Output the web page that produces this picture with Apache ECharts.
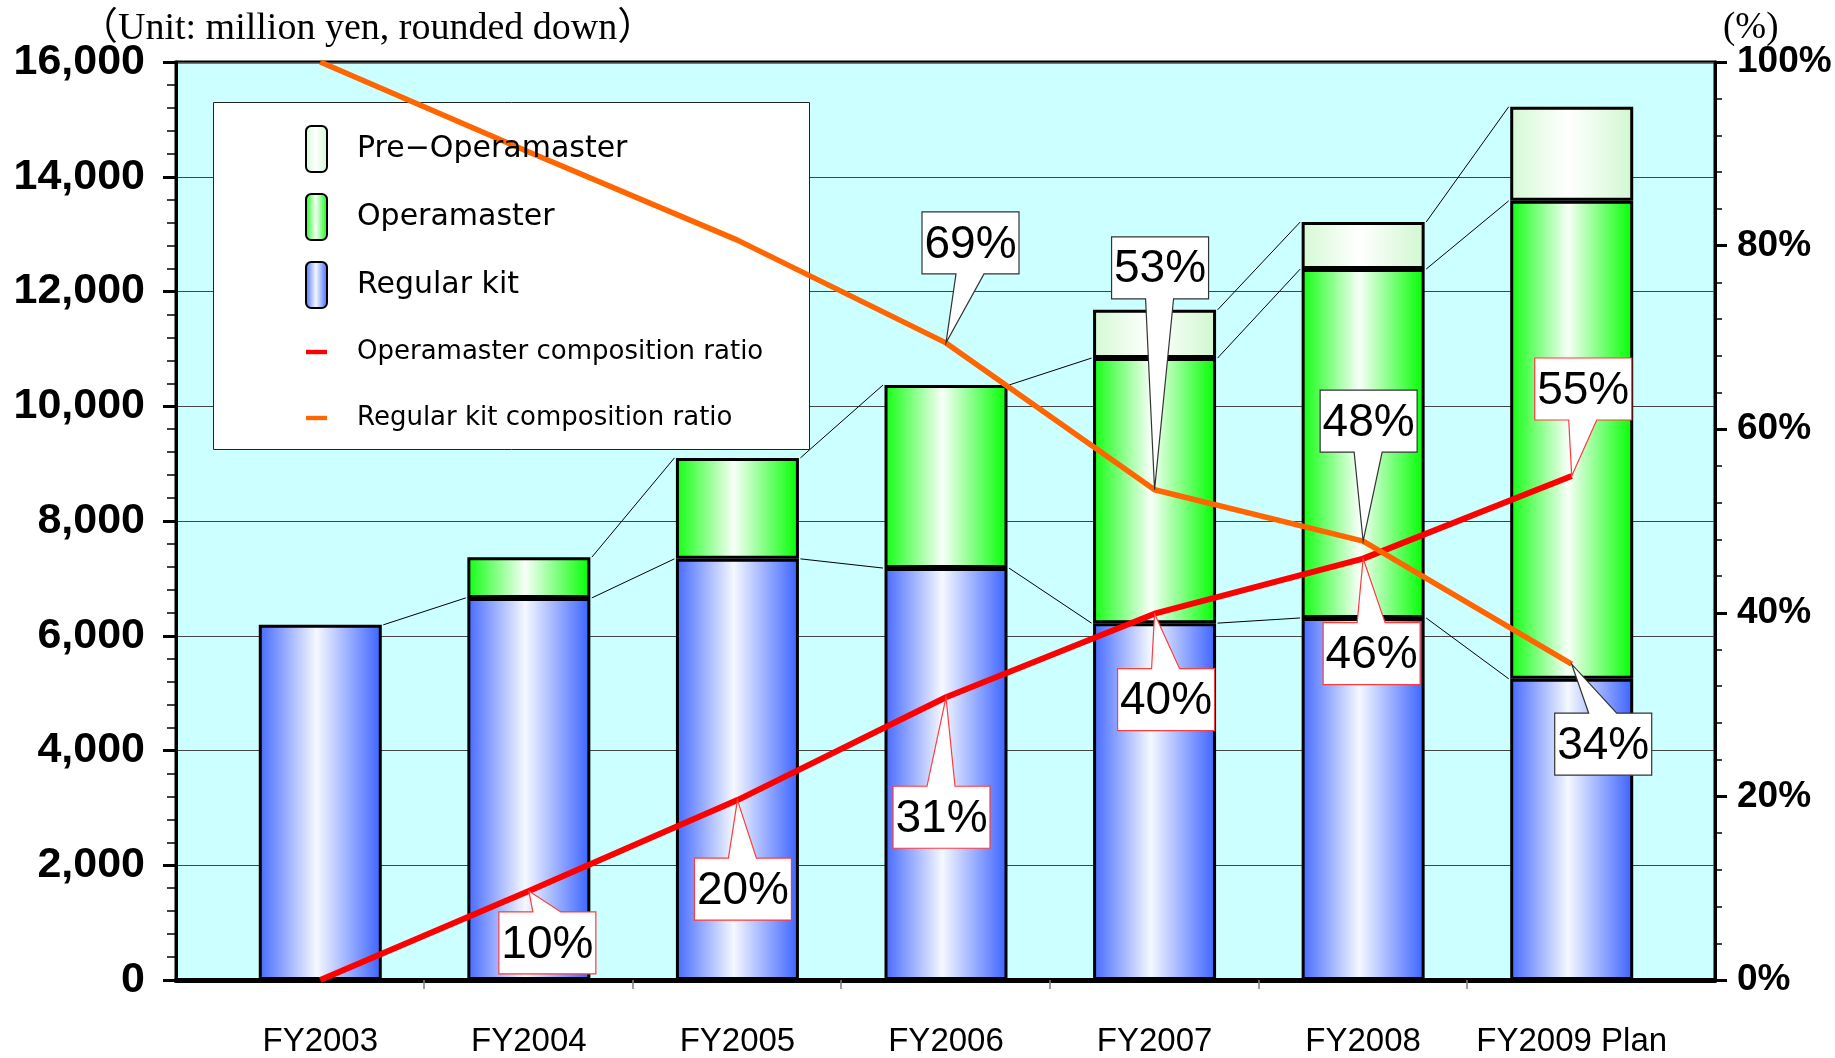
<!DOCTYPE html>
<html>
<head>
<meta charset="utf-8">
<script src="https://cdn.jsdelivr.net/npm/echarts@6/dist/echarts.min.js"></script>
<style>
html,body{margin:0;padding:0;background:#fff;}
#chart{width:1835px;height:1058px;}
</style>
</head>
<body>
<div id="chart"></div>
<script>
// ---------------- data ----------------
const categories = ['FY2003', 'FY2004', 'FY2005', 'FY2006', 'FY2007', 'FY2008', 'FY2009 Plan'];
const regularKit = [6190, 6660, 7340, 7180, 6220, 6310, 5250];
const operamaster = [null, 710, 1760, 3190, 4620, 6080, 8330];
const preOperamaster = [null, null, null, null, 840, 820, 1640];
const operamasterRatio = [0, 9.7, 19.6, 30.8, 39.9, 45.9, 54.9];
const regularKitRatio = [100, 90.2, 80.6, 69.4, 53.4, 47.8, 34.4];
const amountAxis = { min: 0, max: 16000, interval: 2000 };
const ratioAxis = { min: 0, max: 100, interval: 20 };
const opLabelIdx = [1, 2, 3, 4, 5, 6];
const rkLabelIdx = [3, 4, 5, 6];
const titleText = '（Unit: million yen, rounded down）';
const ratioUnitText = '(%)';

// ---------------- layout ----------------
const opCalloutPos = [[-30, 21], [-43, 58], [-53, 89], [-37, 55], [-40, 64], [-37, -118]];
const rkCalloutPos = [[-24, -131], [-43, -253], [-43, -151], [-17, 49]];
const BOX_W = 97, BOX_H = 62, TAIL_L = 34, TAIL_R = 62;
const BAR_W = 123, BAR_HALF = 63;
const CAT_PAD = 0.69;

const chart = echarts.init(document.getElementById('chart'), null, { renderer: 'canvas' });

function grad(c0, c1, c2) {
  return new echarts.graphic.LinearGradient(0, 0, 1, 0, [
    { offset: 0, color: c0 }, { offset: 0.47, color: c1 }, { offset: 1, color: c2 }
  ]);
}

const callouts = [];
opLabelIdx.forEach((ci, k) => callouts.push({ value: [ci, operamasterRatio[ci]], pos: opCalloutPos[k], stroke: '#ff3b3b' }));
rkLabelIdx.forEach((ci, k) => callouts.push({ value: [ci, regularKitRatio[ci]], pos: rkCalloutPos[k], stroke: '#333333' }));

function renderCallout(params, api) {
  const c = callouts[params.dataIndex];
  const v = api.value(1);
  const p = api.coord([api.value(0), v]);
  const x0 = p[0] + c.pos[0], y0 = p[1] + c.pos[1];
  const x1 = x0 + BOX_W, y1 = y0 + BOX_H;
  const b0 = x0 + TAIL_L, b1 = x0 + TAIL_R;
  let pts;
  if (y0 > p[1]) {
    pts = [[x0, y0], [b0, y0], p, [b1, y0], [x1, y0], [x1, y1], [x0, y1]];
  } else {
    pts = [[x0, y0], [x1, y0], [x1, y1], [b1, y1], p, [b0, y1], [x0, y1]];
  }
  return {
    type: 'group',
    children: [
      { type: 'polygon', shape: { points: pts }, style: { fill: '#ffffff', stroke: c.stroke, lineWidth: 1.2 } },
      { type: 'text', style: { text: Math.round(v) + '%', x: (x0 + x1) / 2, y: (y0 + y1) / 2 + 2, align: 'center', verticalAlign: 'middle', fontSize: 46, fontFamily: '"Liberation Sans", Arial, sans-serif', fill: '#000' } }
    ]
  };
}

const layers = [regularKit, operamaster, preOperamaster];
function stackTop(layer, i) {
  let s = 0;
  for (let l = 0; l <= layer; l++) s += layers[l][i] || 0;
  return s;
}
function renderConnector(params, api) {
  const i = api.value(0);
  const children = [];
  for (let l = 0; l < layers.length; l++) {
    if (layers[l][i] == null || layers[l][i + 1] == null) continue;
    const a = api.coord([i, stackTop(l, i)]);
    const b = api.coord([i + 1, stackTop(l, i + 1)]);
    children.push({ type: 'line', shape: { x1: a[0] + BAR_HALF, y1: a[1], x2: b[0] - BAR_HALF, y2: b[1] }, style: { stroke: '#000', lineWidth: 1 } });
  }
  return { type: 'group', children };
}

const sansBold = { fontFamily: '"Liberation Sans", Arial, sans-serif', fontWeight: 'bold', color: '#000' };

const option = {
  animation: false,
  backgroundColor: '#ffffff',
  title: [
    { text: titleText, left: 80, top: 10, padding: 0, textStyle: { fontFamily: '"Liberation Serif", "Noto Sans CJK JP", serif', fontSize: 38, fontWeight: 'normal', color: '#000' } },
    { text: ratioUnitText, left: 1723, top: 10, padding: 0, textStyle: { fontFamily: '"Liberation Serif", serif', fontSize: 37, fontWeight: 'normal', color: '#000' } }
  ],
  grid: [
    { left: 176, right: 120, top: 62, bottom: 78, show: true, backgroundColor: '#CCFFFF', borderColor: '#000', borderWidth: 3 },
    { left: 216, right: 159, top: 62, bottom: 78 }
  ],
  xAxis: [
    {
      type: 'value', gridIndex: 0, min: -CAT_PAD, max: categories.length - 1 + CAT_PAD,
      axisLine: { show: true, onZero: false, lineStyle: { color: '#000', width: 5 } },
      axisTick: { show: true, customValues: categories.slice(1).map((_, i) => i + 0.5), length: 9, lineStyle: { color: '#808080', width: 1.5 } },
      axisLabel: { show: false }, splitLine: { show: false }
    },
    {
      type: 'category', gridIndex: 1, data: categories, boundaryGap: true,
      axisLine: { show: false }, axisTick: { show: false }, splitLine: { show: false },
      axisLabel: { interval: 0, margin: 45, fontSize: 33, fontFamily: '"Liberation Sans", Arial, sans-serif', color: '#000' }
    }
  ],
  yAxis: [
    {
      type: 'value', gridIndex: 0, position: 'left', min: amountAxis.min, max: amountAxis.max, interval: amountAxis.interval,
      axisLine: { show: true, onZero: false, lineStyle: { color: '#000', width: 3 } },
      axisTick: { show: true, length: 13, lineStyle: { color: '#000', width: 3 } },
      minorTick: { show: true, splitNumber: 5, length: 9, lineStyle: { color: '#000', width: 1.5 } },
      axisLabel: Object.assign({ margin: 31, fontSize: 43, formatter: v => v.toLocaleString('en-US') }, sansBold),
      splitLine: { show: true, lineStyle: { color: '#444', width: 1.2 } }
    },
    {
      type: 'value', gridIndex: 0, position: 'right', min: ratioAxis.min, max: ratioAxis.max, interval: ratioAxis.interval,
      axisLine: { show: true, onZero: false, lineStyle: { color: '#000', width: 3 } },
      axisTick: { show: true, length: 12, lineStyle: { color: '#000', width: 3 } },
      minorTick: { show: true, splitNumber: 5, length: 7, lineStyle: { color: '#000', width: 1.5 } },
      axisLabel: Object.assign({ margin: 22, fontSize: 37, formatter: '{value}%' }, sansBold),
      splitLine: { show: false }
    },
    { type: 'value', gridIndex: 1, min: amountAxis.min, max: amountAxis.max, show: false },
    { type: 'value', gridIndex: 1, min: ratioAxis.min, max: ratioAxis.max, show: false }
  ],
  legend: {
    orient: 'vertical', left: 305, top: 125, padding: 0,
    itemWidth: 21, itemHeight: 46, itemGap: 20, selectedMode: false,
    textStyle: { fontFamily: '"DejaVu Sans", sans-serif', color: '#000', lineHeight: 46, padding: [0, 0, 0, 25] },
    data: [
      { name: 'Pre−Operamaster', textStyle: { fontSize: 30 } },
      { name: 'Operamaster', textStyle: { fontSize: 30 } },
      { name: 'Regular kit', textStyle: { fontSize: 30 } },
      { name: 'Operamaster composition ratio', icon: 'path://M0 0H24V5H0Z', textStyle: { fontSize: 26 } },
      { name: 'Regular kit composition ratio', icon: 'path://M0 0H24V5H0Z', textStyle: { fontSize: 26 } }
    ]
  },
  graphic: [
    { type: 'rect', left: 213, top: 102, z: 3, shape: { width: 596, height: 347 }, style: { fill: '#ffffff', stroke: '#222', lineWidth: 1 } }
  ],
  series: [
    { type: 'bar', name: 'Regular kit', xAxisIndex: 1, yAxisIndex: 2, stack: 'total', barWidth: BAR_W, data: regularKit,
      itemStyle: { color: grad('#4569FF', '#F5F8FF', '#3B62FF'), borderColor: '#000', borderWidth: 3 } },
    { type: 'bar', name: 'Operamaster', xAxisIndex: 1, yAxisIndex: 2, stack: 'total', barWidth: BAR_W, data: operamaster,
      itemStyle: { color: grad('#10FF10', '#F8FFF8', '#00FF00'), borderColor: '#000', borderWidth: 3 } },
    { type: 'bar', name: 'Pre−Operamaster', xAxisIndex: 1, yAxisIndex: 2, stack: 'total', barWidth: BAR_W, data: preOperamaster,
      itemStyle: { color: grad('#D4F9D4', '#FFFFFF', '#D0F7D0'), borderColor: '#000', borderWidth: 3 } },
    { type: 'custom', name: 'connectors', xAxisIndex: 1, yAxisIndex: 2, silent: true, clip: false,
      data: categories.slice(0, -1).map((_, i) => [i, 0]), renderItem: renderConnector },
    { type: 'line', name: 'Operamaster composition ratio', xAxisIndex: 1, yAxisIndex: 3, data: operamasterRatio,
      symbol: 'none', lineStyle: { color: '#FF0000', width: 6 }, itemStyle: { color: '#FF0000' } },
    { type: 'line', name: 'Regular kit composition ratio', xAxisIndex: 1, yAxisIndex: 3, data: regularKitRatio,
      symbol: 'none', lineStyle: { color: '#FF6600', width: 5.5 }, itemStyle: { color: '#FF6600' } },
    { type: 'custom', name: 'callouts', xAxisIndex: 1, yAxisIndex: 3, silent: true, clip: false, z: 10,
      data: callouts.map(c => c.value), renderItem: renderCallout }
  ]
};
chart.setOption(option);
</script>
</body>
</html>
